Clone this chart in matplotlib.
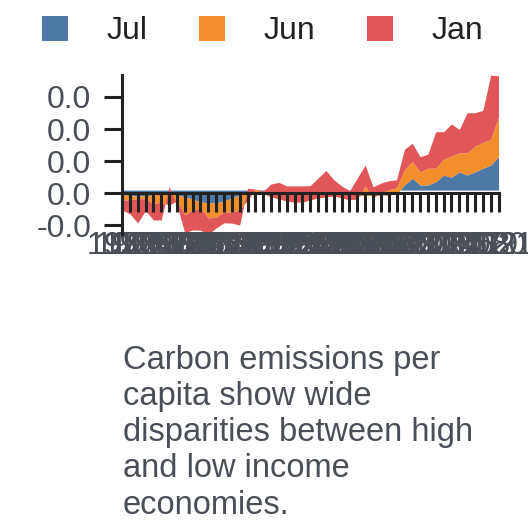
import numpy as np
import matplotlib
matplotlib.use("Agg")
import matplotlib.pyplot as plt
from matplotlib.patches import Patch
from matplotlib.ticker import FormatStrFormatter

plt.rcParams['font.family'] = ['Liberation Sans', 'DejaVu Sans']

years = list(range(1973, 2022))
series_names = ["Jul", "Jun", "Jan"]
series_colors = ["#4e79a7", "#f28e2b", "#e15759"]

jul = [-0.0012, -0.0018, -0.0018, -0.0018, -0.0015, -0.0012, -0.0012, -0.0015, -0.0021, -0.0028,
       -0.0037, -0.0040, -0.0040, -0.0034, -0.0025, -0.0015, -0.0009, -0.0006, -0.0006, -0.0012,
       -0.0015, -0.0018, -0.0021, -0.0021, -0.0018, -0.0015, -0.0012, -0.0012, -0.0015, -0.0018,
       -0.0018, -0.0015, -0.0018, -0.0015, -0.0015, -0.0012, 0.0016, 0.0037, 0.0016, 0.0016,
       0.0026, 0.0047, 0.0040, 0.0057, 0.0047, 0.0057, 0.0068, 0.0078, 0.0104]
jun = [-0.0019, -0.0012, -0.0009, -0.0009, -0.0028, -0.0025, -0.0034, -0.0019, -0.0056, -0.0034,
       -0.0019, -0.0047, -0.0044, -0.0034, -0.0044, -0.0047, -0.0022, 0.0009, -0.0003, -0.0009,
       -0.0012, -0.0016, -0.0016, -0.0016, -0.0012, -0.0009, -0.0009, -0.0006, -0.0009, -0.0012,
       -0.0009, 0.0028, -0.0006, 0.0009, 0.0016, 0.0019, 0.0047, 0.0052, 0.0041, 0.0052,
       0.0042, 0.0049, 0.0066, 0.0059, 0.0069, 0.0080, 0.0080, 0.0080, 0.0123]
jan = [-0.0031, -0.0044, -0.0075, -0.0037, -0.0050, -0.0056, 0.0056, -0.0012, -0.0056, -0.0062,
       -0.0069, -0.0050, -0.0034, -0.0034, -0.0034, -0.0047, 0.0037, 0.0000, 0.0006, 0.0040,
       0.0051, 0.0047, 0.0050, 0.0050, 0.0044, 0.0062, 0.0082, 0.0050, 0.0037, 0.0028,
       0.0065, 0.0065, 0.0034, 0.0028, 0.0028, 0.0025, 0.0064, 0.0057, 0.0047, 0.0044,
       0.0114, 0.0086, 0.0100, 0.0073, 0.0125, 0.0104, 0.0100, 0.0200, 0.0129]

y_ticks = [-0.01, 0.0, 0.01, 0.02, 0.03]
caption = "Carbon emissions per\ncapita show wide\ndisparities between high\nand low income\neconomies."

W = 528.0
fig = plt.figure(figsize=(5.28, 5.28), dpi=100)
ax = fig.add_axes([122 / W, (W - 234) / W, 376.5 / W, (234 - 75) / W])

x = np.arange(len(years))
base = 0.001
lower = np.full(len(years), base)
for vals, col in zip([jul, jun, jan], series_colors):
    upper = lower + np.array(vals)
    ax.fill_between(x, lower, upper, color=col, linewidth=0)
    lower = upper

ax.set_xlim(0, len(years) - 1)
ax.set_ylim(-0.01268, 0.03685)

for s in ["top", "right"]:
    ax.spines[s].set_visible(False)
ax.spines["left"].set_linewidth(2.2)
ax.spines["left"].set_color("#222222")
ax.spines["bottom"].set_linewidth(2.2)
ax.spines["bottom"].set_color("#222222")
ax.spines["bottom"].set_position(("data", 0))

ax.set_xticks(x)
ax.set_xticklabels([str(y) for y in years])
ax.set_yticks(y_ticks)
ax.yaxis.set_major_formatter(FormatStrFormatter("%.1f"))
ax.tick_params(axis="x", length=14, width=2.2, color="#222222", pad=13.5,
               labelsize=23, labelcolor="#4a4f57")
ax.tick_params(axis="y", length=13, width=2.2, color="#222222", pad=9,
               labelsize=23, labelcolor="#4a4f57")

handles = [Patch(facecolor=c, edgecolor="none", label=n) for n, c in zip(series_names, series_colors)]
fig.legend(handles=handles, loc="center left", bbox_to_anchor=(41.7 / W, 1 - 31 / W),
           ncol=3, frameon=False, fontsize=23, handlelength=0.815, handleheight=0.815,
           handletextpad=1.2, columnspacing=1.63, borderpad=0, borderaxespad=0,
           labelcolor="#222222")

fig.text(123 / W, 1 - 345 / W, caption, fontsize=23.5, color="#4a4f57",
         va="top", ha="left", linespacing=1.215)

fig.savefig("out.png", dpi=100)
